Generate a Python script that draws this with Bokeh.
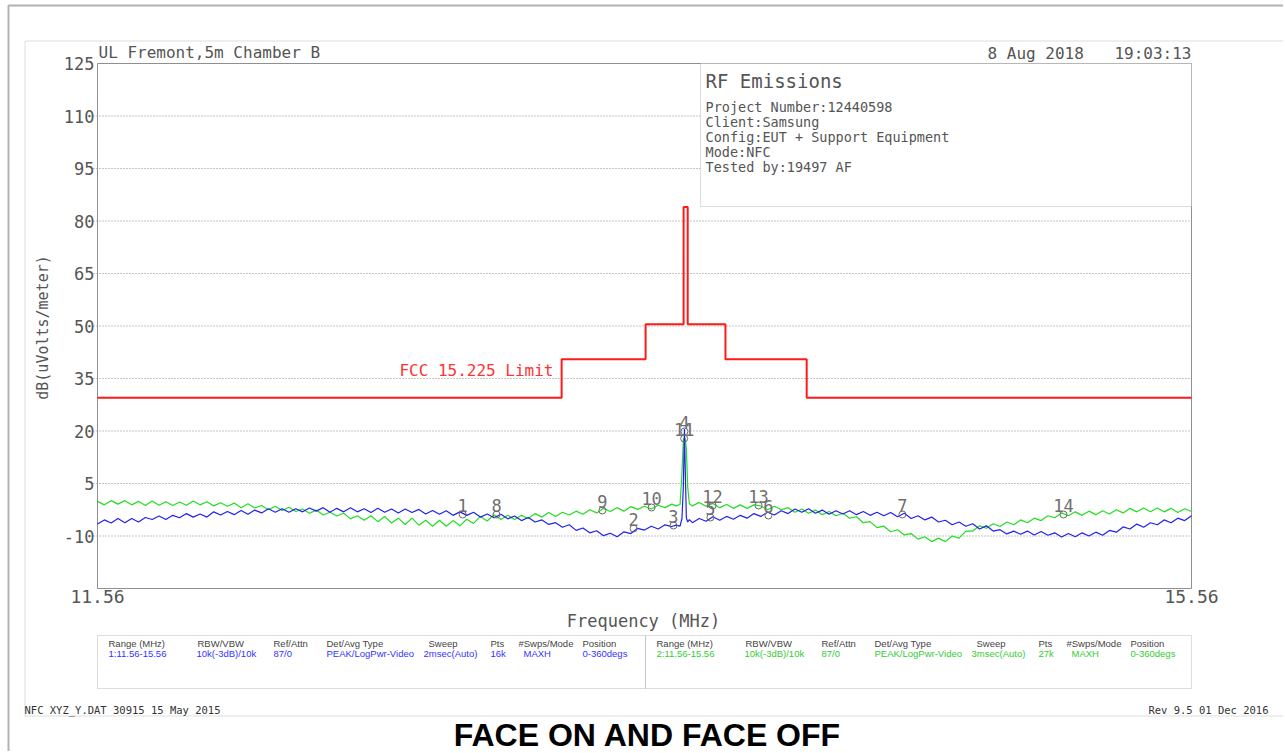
import math
from bokeh.plotting import figure
from bokeh.models import Range1d, BoxAnnotation, Label, ColumnDataSource
from bokeh.core.properties import value
from bokeh.embed import file_html
from bokeh.resources import INLINE

# ---------------- data ----------------
freq_mhz = [
    11.560, 11.585, 11.610, 11.635, 11.660, 11.685, 11.710, 11.735, 11.760, 11.785,
    11.810, 11.835, 11.860, 11.885, 11.910, 11.935, 11.960, 11.985, 12.010, 12.035,
    12.060, 12.085, 12.110, 12.135, 12.160, 12.185, 12.210, 12.235, 12.260, 12.285,
    12.310, 12.335, 12.360, 12.385, 12.410, 12.435, 12.460, 12.485, 12.510, 12.535,
    12.560, 12.585, 12.610, 12.635, 12.660, 12.685, 12.710, 12.735, 12.760, 12.785,
    12.810, 12.835, 12.860, 12.885, 12.910, 12.935, 12.960, 12.985, 13.010, 13.035,
    13.060, 13.085, 13.110, 13.135, 13.160, 13.185, 13.210, 13.235, 13.260, 13.285,
    13.310, 13.335, 13.360, 13.385, 13.410, 13.435, 13.460, 13.485, 13.510, 13.535,
    13.560, 13.585, 13.610, 13.635, 13.660,
    13.675, 13.690, 13.697, 13.702, 13.706, 13.709, 13.713, 13.718, 13.724,
    13.735, 13.760, 13.785, 13.810, 13.835, 13.860, 13.885, 13.910, 13.935, 13.960,
    13.985, 14.010, 14.035, 14.060, 14.085, 14.110, 14.135, 14.160, 14.185, 14.210,
    14.235, 14.260, 14.285, 14.310, 14.335, 14.360, 14.385, 14.410, 14.435, 14.460,
    14.485, 14.510, 14.535, 14.560, 14.585, 14.610, 14.635, 14.660, 14.685, 14.710,
    14.735, 14.760, 14.785, 14.810, 14.835, 14.860, 14.885, 14.910, 14.935, 14.960,
    14.985, 15.010, 15.035, 15.060, 15.085, 15.110, 15.135, 15.160, 15.185, 15.210,
    15.235, 15.260, 15.285, 15.310, 15.335, 15.360, 15.385, 15.410, 15.435, 15.460,
    15.485, 15.510, 15.535, 15.560,
]

# trace 1 (blue)
trace1_db = [
    -6.6, -5.4, -6.3, -5.0, -6.2, -5.0, -6.0, -4.7, -5.3, -4.3,
    -5.3, -4.1, -4.8, -3.6, -4.6, -3.7, -4.6, -3.1, -4.0, -3.0,
    -3.9, -2.7, -3.8, -2.6, -3.4, -2.2, -3.2, -2.2, -3.2, -2.2,
    -3.1, -2.0, -2.9, -1.9, -3.2, -2.1, -3.1, -1.9, -3.1, -2.2,
    -3.3, -2.1, -3.2, -2.3, -3.4, -2.3, -3.3, -2.4, -3.7, -2.7,
    -3.8, -2.8, -4.1, -3.1, -4.1, -3.2, -4.6, -3.7, -4.8, -3.8,
    -5.1, -4.3, -5.6, -4.7, -6.0, -5.4, -6.7, -6.2, -7.5, -6.8,
    -8.4, -7.7, -9.1, -8.5, -9.9, -9.2, -10.2, -8.8, -9.3, -7.8,
    -8.3, -7.2, -8.0, -6.8, -7.3,
    -6.9, -7.2, -5.0, 4.0, 20.6, 9.0, -4.8, -6.0, -5.3,
    -6.2, -5.0, -5.8, -4.5, -5.5, -4.4, -5.2, -4.1, -4.9, -3.6,
    -4.4, -3.2, -4.0, -2.8, -3.6, -2.3, -3.2, -2.2, -3.5, -2.6,
    -3.8, -2.8, -3.7, -2.8, -3.9, -3.0, -4.1, -3.2, -4.2, -3.3,
    -4.5, -3.5, -5.0, -4.2, -5.4, -4.6, -6.0, -5.5, -6.8, -6.0,
    -7.2, -6.5, -8.0, -7.1, -8.6, -8.2, -9.4, -8.6, -9.5, -8.6,
    -9.7, -8.7, -9.8, -9.1, -10.3, -9.3, -10.2, -9.1, -10.0, -8.9,
    -9.8, -8.4, -8.9, -7.4, -8.0, -6.6, -7.5, -6.2, -6.8, -5.4,
    -6.2, -4.9, -5.6, -4.2,
]

# trace 2 (green)
trace2_db = [
    -0.1, -1.1, 0.1, -0.9, 0.1, -1.1, -0.1, -1.3, 0.0, -1.2,
    -0.2, -1.3, -0.3, -1.2, 0.0, -1.1, -0.2, -1.4, -0.5, -1.5,
    -0.6, -1.9, -0.8, -2.0, -1.3, -2.5, -1.5, -2.7, -1.8, -3.0,
    -2.3, -3.5, -2.6, -4.0, -3.2, -4.3, -3.5, -5.1, -4.2, -5.5,
    -4.2, -5.9, -4.4, -6.3, -4.9, -6.7, -4.9, -6.9, -5.5, -7.2,
    -5.5, -7.2, -5.6, -7.1, -5.2, -6.4, -4.4, -5.7, -3.9, -5.3,
    -4.1, -5.3, -4.1, -5.0, -3.6, -4.6, -3.3, -4.4, -3.2, -4.0,
    -2.9, -3.8, -2.5, -3.4, -2.1, -3.0, -1.9, -2.9, -1.6, -2.4,
    -1.5, -2.3, -1.2, -1.9, -0.9,
    -1.4, -1.0, 8.0, 17.5, 18.1, 17.8, 15.0, 4.0, -0.8,
    -1.4, -0.4, -1.5, -0.7, -1.9, -1.0, -2.1, -1.1, -2.1, -1.1,
    -1.4, -2.5, -1.5, -2.5, -1.9, -3.2, -2.3, -3.5, -2.6, -3.9,
    -3.0, -4.2, -3.5, -4.9, -4.5, -6.2, -5.9, -7.6, -7.2, -8.8,
    -8.2, -9.7, -9.3, -10.9, -10.2, -11.6, -10.6, -11.6, -10.0, -10.6,
    -8.6, -8.6, -7.1, -7.8, -6.5, -7.3, -6.0, -6.8, -5.4, -6.2,
    -4.9, -5.6, -4.2, -4.8, -3.4, -4.2, -3.1, -4.1, -2.9, -3.9,
    -2.8, -3.7, -2.5, -3.4, -2.1, -3.1, -2.0, -3.1, -2.0, -3.1,
    -2.1, -3.3, -2.2, -3.0,
]

# FCC 15.225 limit (band edges and levels)
limit_edges_mhz = [11.56, 13.257, 13.564, 13.703, 13.718, 13.856, 14.153, 15.56]
limit_levels_db = [29.5, 40.5, 50.5, 84.0, 50.5, 40.5, 29.5]

# markers (1-7 on trace 1, 8-14 on trace 2)
marker_ids = ["1", "2", "3", "4", "5", "6", "7", "8", "9", "10", "11", "12", "13", "14"]
marker_freq_mhz = [12.895, 13.520, 13.666, 13.706, 13.801, 14.013, 14.503,
                   13.019, 13.406, 13.586, 13.705, 13.809, 13.977, 15.092]
marker_db = [-3.86, -7.86, -7.0, 19.86, -4.71, -4.14, -3.86,
             -3.86, -2.71, -1.86, 17.86, -1.29, -1.29, -3.86]

y_ticks = [125, 110, 95, 80, 65, 50, 35, 20, 5, -10]
grid_ticks = [110, 95, 80, 65, 50, 35, 20, 5, -10]
x_ticks = [11.56, 15.56]
x_tick_labels = ["11.56", "15.56"]

info_title = "RF Emissions"
info_lines = ["Project Number:12440598", "Client:Samsung",
              "Config:EUT + Support Equipment", "Mode:NFC", "Tested by:19497 AF"]

table_headers = ["Range (MHz)", "RBW/VBW", "Ref/Attn", "Det/Avg Type",
                 "Sweep", "Pts", "#Swps/Mode", "Position"]
trace1_settings = ["1:11.56-15.56", "10k(-3dB)/10k", "87/0", "PEAK/LogPwr-Video",
                   "2msec(Auto)", "16k", "MAXH", "0-360degs"]
trace2_settings = ["2:11.56-15.56", "10k(-3dB)/10k", "87/0", "PEAK/LogPwr-Video",
                   "3msec(Auto)", "27k", "MAXH", "0-360degs"]

# ---------------- layout ----------------
# The canvas itself is the drawing page (pixel coordinates, y downwards);
# the chart is mapped into its plot box through extra ranges.
W, H = 1283, 751
FL, FR, FT, FB = 97, 1191, 63, 588          # plot box on the page
X0, X1 = 11.56, 15.56                        # frequency axis (MHz)
Y0, Y1 = -25.0, 125.0                        # level axis (dB uV/m)
sx = (FR - FL) / (X1 - X0)
sy = (FB - FT) / (Y1 - Y0)

GRAY = "#555555"
LINEGRAY = "#8f8f8f"
MONO = "DejaVu Sans Mono"
BLUE = "#2222ee"
GREEN = "#22dd22"

p = figure(width=W, height=H, x_range=Range1d(0, W), y_range=Range1d(H, 0),
           output_backend="svg", toolbar_location=None, title=None,
           x_axis_location=None, y_axis_location=None, min_border=0)
p.grid.visible = False
p.outline_line_color = None
p.background_fill_color = "white"
p.border_fill_color = "white"
p.extra_x_ranges = {"freq": Range1d(X0 - FL / sx, X0 + (W - FL) / sx)}
p.extra_y_ranges = {"db": Range1d(Y1 - (H - FT) / sy, Y1 + FT / sy)}
R = dict(x_range_name="freq", y_range_name="db")

# page frames
p.add_layout(BoxAnnotation(left=8, right=1400, top=5, bottom=900,
                           fill_alpha=0, line_color="black", line_width=2, level="underlay"))
p.add_layout(BoxAnnotation(left=24.5, right=1400, top=40.5, bottom=715.5,
                           fill_alpha=0, line_color=LINEGRAY, line_width=1, level="underlay"))

# horizontal grid (dotted), slightly extended left as tick marks
grid_x0 = X0 - 4 / sx
p.segment(x0=[grid_x0] * len(grid_ticks), x1=[X1] * len(grid_ticks), y0=grid_ticks,
          y1=grid_ticks, line_color="#8a8a8a", line_dash="1 2", line_width=1, **R)

# plot box
p.quad(left=[X0], right=[X1], bottom=[Y0], top=[Y1], fill_color=None,
       line_color=LINEGRAY, line_width=1, **R)

# y tick labels
p.text(x=[X0] * len(y_ticks), y=y_ticks, text=[str(t) for t in y_ticks],
       text_align="right", text_baseline="middle", x_offset=-3,
       text_font=value(MONO), text_font_size="17px", text_color=GRAY, **R)
# x tick labels
p.text(x=x_ticks, y=[Y0] * len(x_ticks), text=x_tick_labels, text_align="center",
       text_baseline="top", y_offset=1, text_font=value(MONO), text_font_size="18px",
       text_color=GRAY, **R)

# axis titles
p.add_layout(Label(x=42, y=327, text="dB(uVolts/meter)", angle=math.pi / 2,
                   text_align="center", text_baseline="middle", text_font=MONO,
                   text_font_size="15px", text_color=GRAY))
p.add_layout(Label(x=643, y=620, text="Frequency (MHz)", text_align="center",
                   text_baseline="middle", text_font=MONO, text_font_size="17px",
                   text_color=GRAY))

# traces
p.line(freq_mhz, trace2_db, line_color=GREEN, line_width=1.2, **R)
p.line(freq_mhz, trace1_db, line_color=BLUE, line_width=1.2, **R)

# limit
p.step(limit_edges_mhz, limit_levels_db + [limit_levels_db[-1]], mode="after",
       line_color="#ff1a1a", line_width=2, **R)

# markers
msrc = ColumnDataSource(dict(x=marker_freq_mhz, y=marker_db, t=marker_ids))
p.scatter("x", "y", source=msrc, marker="circle", size=7, fill_color=None,
          line_color="#6a6a6a", line_width=1, **R)
p.text("x", "y", text="t", source=msrc, text_align="center", text_baseline="alphabetic",
       y_offset=-9, text_font=value(MONO), text_font_size="17px", text_color="#707070", **R)

# limit label
p.add_layout(Label(x=553, y=370, text="FCC 15.225 Limit", text_align="right",
                   text_baseline="middle", text_font=MONO, text_font_size="16px",
                   text_color="#ff3333"))

# header
p.add_layout(Label(x=98, y=52, text="UL Fremont,5m Chamber B",
                   text_baseline="middle", text_font=MONO, text_font_size="16px",
                   text_color=GRAY))
p.add_layout(Label(x=987, y=53, text="8 Aug 2018",
                   text_baseline="middle", text_font=MONO, text_font_size="16px",
                   text_color=GRAY))
p.add_layout(Label(x=1191, y=53, text="19:03:13", text_align="right",
                   text_baseline="middle", text_font=MONO, text_font_size="16px",
                   text_color=GRAY))

# info box
p.add_layout(BoxAnnotation(left=700, right=1191, top=63, bottom=206,
                           fill_color="white", fill_alpha=1.0, line_color=LINEGRAY,
                           line_width=1))
p.add_layout(Label(x=705, y=80, text=info_title, text_baseline="middle",
                   text_font=MONO, text_font_size="19px", text_color=GRAY))
for i, line in enumerate(info_lines):
    p.add_layout(Label(x=705, y=106 + 15 * i, text=line, text_baseline="middle",
                       text_font=MONO, text_font_size="13.5px", text_color=GRAY))

# settings table
p.add_layout(BoxAnnotation(left=97, right=645, top=635, bottom=688,
                           fill_alpha=0, line_color=LINEGRAY, line_width=1))
p.add_layout(BoxAnnotation(left=645, right=1191, top=635, bottom=688,
                           fill_alpha=0, line_color=LINEGRAY, line_width=1))
head_x = [108, 197, 273, 326, 428, 490, 518, 582]
val_x = [108, 196, 273, 326, 423, 490, 523, 582]
for half, (settings, col) in enumerate([(trace1_settings, "#3333ff"),
                                         (trace2_settings, "#33cc33")]):
    off = 548 * half
    for hx, vx, htxt, vtxt in zip(head_x, val_x, table_headers, settings):
        p.add_layout(Label(x=hx + off, y=643, text=htxt, text_baseline="middle",
                           text_font="Liberation Sans", text_font_size="9.5px",
                           text_color="#444444"))
        p.add_layout(Label(x=vx + off, y=653, text=vtxt, text_baseline="middle",
                           text_font="Liberation Sans", text_font_size="9.5px",
                           text_color=col))

# footer
p.add_layout(Label(x=24, y=709, text="NFC  XYZ_Y.DAT 30915 15 May 2015",
                   text_baseline="middle", text_font=MONO, text_font_size="10.5px",
                   text_color="#333333"))
p.add_layout(Label(x=1268, y=709, text="Rev 9.5 01 Dec 2016", text_align="right",
                   text_baseline="middle", text_font=MONO, text_font_size="10.5px",
                   text_color="#333333"))
p.add_layout(Label(x=647, y=734, text="FACE ON AND FACE OFF", text_align="center",
                   text_baseline="middle", text_font="Liberation Sans",
                   text_font_style="bold", text_font_size="32px", text_color="black"))

open("out.html", "w").write(file_html(p, INLINE))
